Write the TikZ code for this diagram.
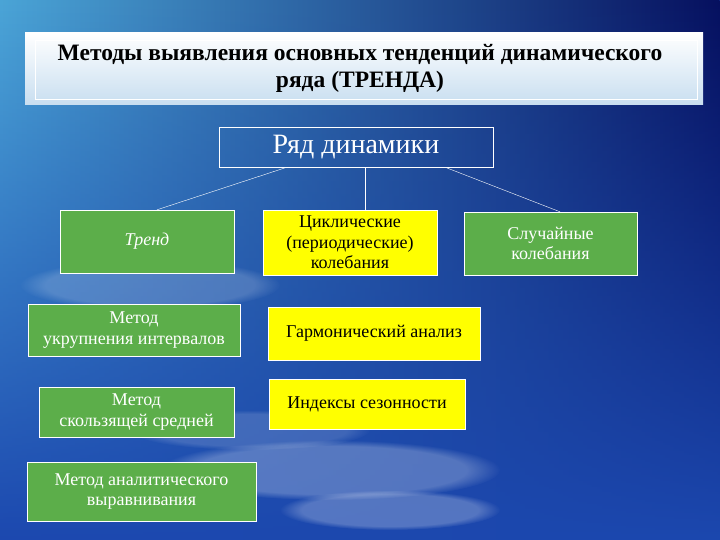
\documentclass[tikz,border=0pt]{standalone}
\usepackage{fontspec}
\setmainfont{Liberation Serif}
\usepackage{xcolor}
\usepackage{tikz}
\usetikzlibrary{positioning,calc,fadings}

\definecolor{skyA}{RGB}{75,165,215}
\definecolor{skyB}{RGB}{6,16,95}
\definecolor{skyC}{RGB}{28,72,175}
\definecolor{boxgreen}{RGB}{92,174,74}
\definecolor{boxyellow}{RGB}{255,255,0}
\definecolor{titleblue}{RGB}{200,222,240}

\tikzfading[name=fade down, top color=transparent!0, bottom color=transparent!100]

\tikzset{
  greenbox/.style={draw=white, fill=boxgreen, text=white, align=center,
    font=\fontsize{18}{20.5}\selectfont, inner sep=2pt},
  yellowbox/.style={draw=white, fill=boxyellow, text=black, align=center,
    font=\fontsize{18}{20.5}\selectfont, inner sep=2pt},
  link/.style={draw=white, thin},
  cloud/.style={fill=white, path fading=circle with fuzzy edge 20 percent}
}

\begin{document}
\begin{tikzpicture}[x=1pt,y=-1pt]
  \useasboundingbox (0,0) rectangle (720,540);
  % background sky
  \fill[skyC] (0,0) rectangle (720,540);
  \shade[left color=skyA, right color=skyB, path fading=fade down] (0,0) rectangle (720,540);
  \fill[cloud, opacity=0.25] (330,470) ellipse (170 and 30);
  \fill[cloud, opacity=0.25] (390,510) ellipse (110 and 20);
  \fill[cloud, opacity=0.18] (150,285) ellipse (130 and 25);
  \fill[cloud, opacity=0.15] (250,430) ellipse (120 and 20);
  % title
  \shade[top color=white, bottom color=titleblue] (25,33) rectangle (703,105);
  \draw[white] (35,40) rectangle (697,99);
  \node[align=center, font=\bfseries\fontsize{23.5}{27}\selectfont] (title) at (360,68)
    {Методы выявления основных тенденций динамического\\ряда (ТРЕНДА)};
  % top box
  \node[draw=white, text=white, minimum width=274pt, minimum height=40pt,
    font=\fontsize{28}{30}\selectfont] (ryad) at (356,147) {Ряд динамики};
  % second row
  \node[greenbox, minimum width=174pt, minimum height=63pt, font=\itshape\fontsize{18}{20.5}\selectfont]
    (trend) at (147,241.5) {Тренд};
  \node[yellowbox, minimum width=174pt, minimum height=65pt] (cycl) at (350,242.5)
    {Циклические\\(периодические)\\колебания};
  \node[greenbox, minimum width=173pt, minimum height=63pt] (rand) at (550.5,243.5)
    {Случайные\\колебания};
  % methods
  \node[greenbox, minimum width=212pt, minimum height=52pt] (ukr) at (134,330)
    {Метод\\укрупнения интервалов};
  \node[greenbox, minimum width=195pt, minimum height=50pt] (skol) at (136.5,412)
    {Метод\\скользящей средней};
  \node[greenbox, minimum width=229pt, minimum height=59pt] (anal) at (141.5,491.5)
    {Метод аналитического\\выравнивания};
  \node[yellowbox, minimum width=212pt, minimum height=53pt] (garm) at (374,333.5)
    {Гармонический анализ};
  \node[yellowbox, minimum width=196pt, minimum height=50pt] (ind) at (367,404)
    {Индексы сезонности};
  % links
  \draw[link] ([xshift=-69pt]ryad.south) -- ([xshift=10pt]trend.north);
  \draw[link] ([xshift=9pt]ryad.south) -- ([xshift=9pt]ryad.south |- cycl.north);
  \draw[link] ([xshift=89pt]ryad.south) -- ([xshift=9.5pt]rand.north);
\end{tikzpicture}
\end{document}
